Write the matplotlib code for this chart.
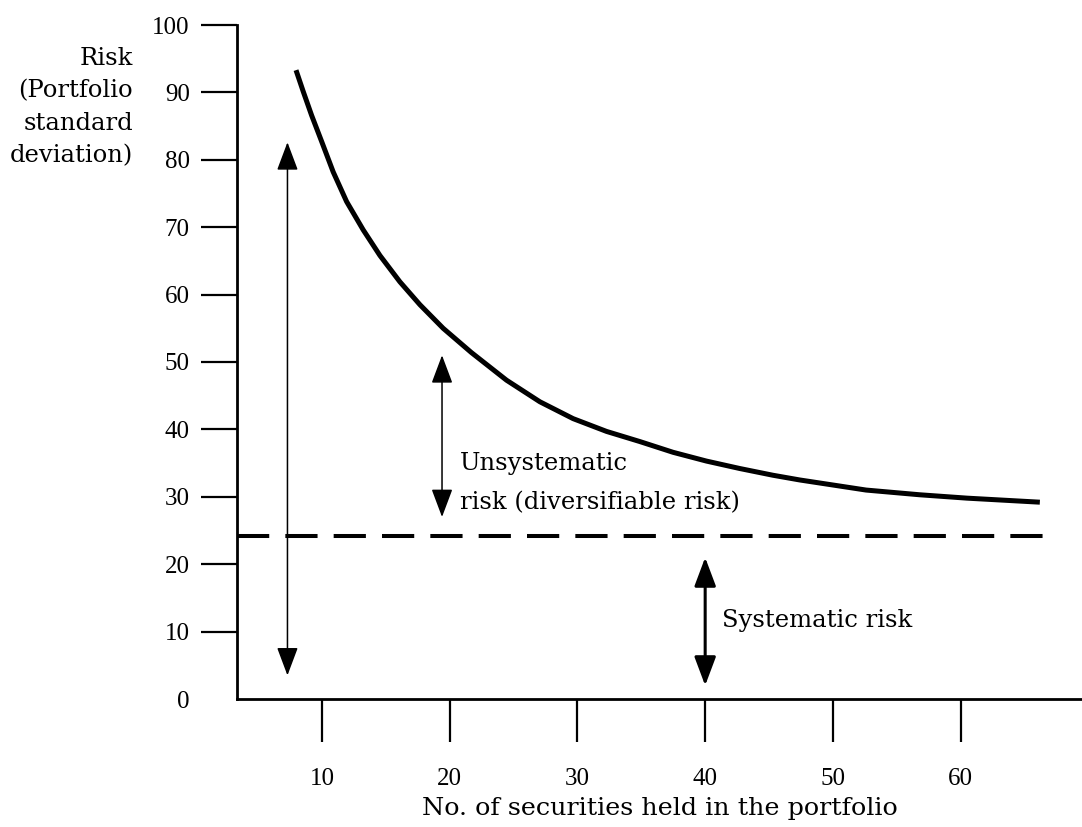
import matplotlib
matplotlib.use("Agg")
import matplotlib.pyplot as plt

plt.rcParams['font.family'] = ['Liberation Serif', 'DejaVu Serif']

# risk curve
n_securities = [7.97, 8.54, 9.19, 9.98, 10.88, 11.93, 13.23, 14.54, 16.10, 17.67, 19.49,
                21.7, 24.45, 27.06, 29.66, 32.28, 34.88, 37.49, 40.1, 42.7, 45.3, 47.4,
                52.6, 56.8, 60.5, 66.2]
risk = [93.3, 90.1, 86.6, 82.7, 78.2, 73.8, 69.6, 65.8, 61.9, 58.5, 55.0,
        51.4, 47.3, 44.1, 41.6, 39.7, 38.2, 36.6, 35.3, 34.2, 33.2, 32.5,
        31.0, 30.3, 29.8, 29.2]

systematic_level = 24.2
dash_from, dash_to = 3.35, 67.0

# double arrows: x position, top, bottom
arrow_x = [7.3, 19.4, 40.0]
arrow_top = [82.6, 51.0, 21.0]
arrow_bottom = [3.5, 27.0, 2.0]
arrow_lw = [1.1, 1.1, 2.2]

x_ticks = [10, 20, 30, 40, 50, 60]
y_ticks = [0, 10, 20, 30, 40, 50, 60, 70, 80, 90, 100]

label_font = 'DejaVu Serif'

fig = plt.figure(figsize=(10.82, 8.27), dpi=100)
ax = fig.add_axes([237 / 1082, 128 / 827, 845 / 1082, 674 / 827])

ax.plot(n_securities, risk, color='black', lw=3.6, solid_capstyle='butt',
        solid_joinstyle='round')
ax.plot([dash_from, dash_to], [systematic_level, systematic_level], color='black',
        lw=2.9, dashes=(8, 4), dash_capstyle='butt')

for x, top, bot, lw in zip(arrow_x, arrow_top, arrow_bottom, arrow_lw):
    ax.annotate('', xy=(x, top), xytext=(x, bot),
                arrowprops=dict(arrowstyle='<|-|>,head_length=0.8,head_width=0.3',
                                color='black', lw=lw, mutation_scale=22,
                                shrinkA=0, shrinkB=0))

ax.text(20.8, 34.9, 'Unsystematic', fontsize=17.5, va='center', ha='left', family=label_font)
ax.text(20.8, 29.1, 'risk (diversifiable risk)', fontsize=17.5, va='center', ha='left',
        family=label_font)
ax.text(41.3, 11.7, 'Systematic risk', fontsize=17.5, va='center', ha='left', family=label_font)

ax.set_xlim(3.35, 69.5)
ax.set_ylim(0, 100)
ax.set_xticks(x_ticks)
ax.set_yticks(y_ticks)
ax.tick_params(axis='y', direction='out', length=26, width=1.6, pad=8, labelsize=18)
ax.tick_params(axis='x', direction='out', length=31, width=1.6, pad=19, labelsize=18)
ax.yaxis.get_major_ticks()[0].tick1line.set_visible(False)

for side in ['top', 'right']:
    ax.spines[side].set_visible(False)
for side in ['left', 'bottom']:
    ax.spines[side].set_linewidth(2)

fig.text(133 / 1082, 1 - 47 / 827, 'Risk\n(Portfolio\nstandard\ndeviation)',
         fontsize=17.5, ha='right', va='top', linespacing=1.52, multialignment='right',
         family=label_font)
fig.text(660 / 1082, 1 - 808 / 827, 'No. of securities held in the portfolio',
         fontsize=18.3, ha='center', va='center', family=label_font)

fig.savefig('out.png', dpi=100)
